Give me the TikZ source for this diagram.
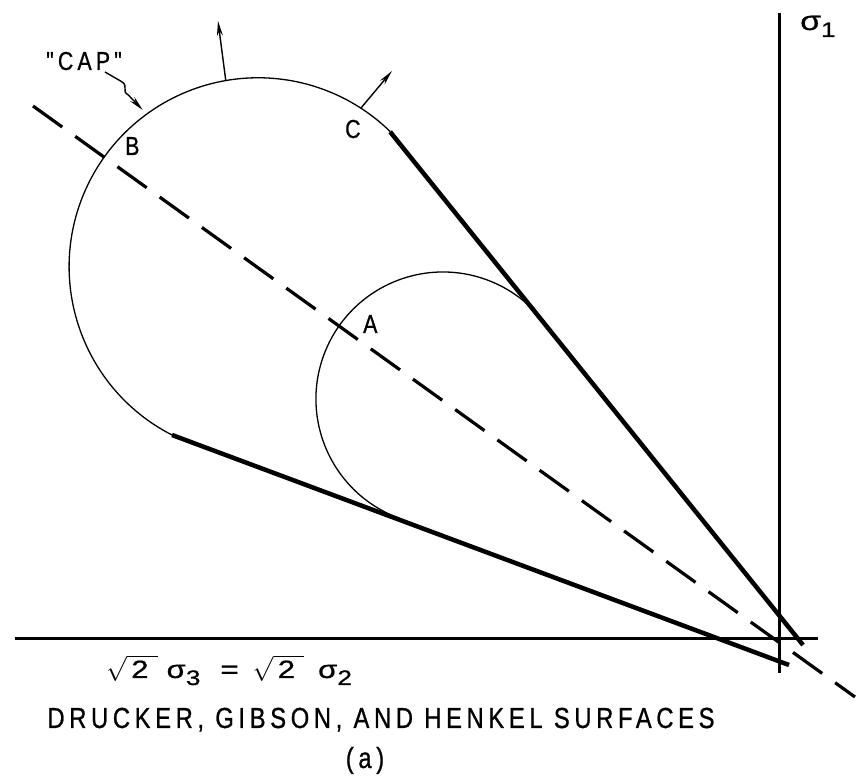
\RequirePackage{fix-cm}
\documentclass[tikz,border=0pt]{standalone}
\usepackage{fontspec}
\setmainfont{Liberation Sans}
\newfontfamily\lettering[FakeStretch=0.82, LetterSpace=16, FakeBold=0.8]{Liberation Sans}
\newfontfamily\eqfont[FakeStretch=1.25, FakeBold=0.8]{Liberation Sans}
\usetikzlibrary{arrows.meta, positioning}
\newcommand{\sub}[1]{\raisebox{-7pt}{\fontsize{21}{21}\selectfont #1}}
\newcommand{\rtwo}{$\sqrt{\hbox{\eqfont\,2\hspace{9pt}}}$}

\begin{document}
\begin{tikzpicture}[x=1pt, y=1pt,
      thinarc/.style={line width=1.3pt},
      thickline/.style={line width=4.5pt},
      axis/.style={line width=3pt},
      hydro/.style={line width=3.2pt, dash pattern=on 36pt off 16pt},
      normal/.style={-{Stealth[length=15pt, width=6pt]}, line width=1.4pt},
      lbl/.style={inner sep=0pt, font=\lettering\fontsize{26}{26}\selectfont},
      caption/.style={inner sep=0pt, font=\lettering\fontsize{29}{29}\selectfont}
    ]
      \useasboundingbox (0,0) rectangle (856,781);
      \coordinate (O) at (779,142);
      \coordinate (west) at (15,142);
      \coordinate (east) at (818,142);
      \coordinate (south) at (779,108);
      \coordinate (north) at (779,768);
      \coordinate (hydroA) at (33,675);
      \coordinate (hydroB) at (855,84);
      \coordinate (capL) at (172,346);
      \coordinate (capR) at (390.1,649.2);
      \coordinate (smL) at (398.6,263.0);
      \coordinate (lowEnd) at (789,116);
      \coordinate (upEnd) at (803,136);
      \draw[axis] (west) -- (east);
      \draw[axis] (south) -- (north);
      \draw[hydro] (hydroA) -- (hydroB);
      \draw[thinarc] (capL) arc[start angle=242.89, end angle=45.64, radius=189];
      \draw[thinarc] (smL) arc[start angle=249.56, end angle=38.78, radius=127];
      \draw[thickline] (capL) -- (lowEnd);
      \draw[thickline] (capR) -- (upEnd);
      \node[lbl, anchor=base west] (cap) at (46,711) {"CAP"};
      \node[lbl, anchor=base west] (B) at (125,626) {B};
      \node[lbl, anchor=base west] (C) at (345,643) {C};
      \node[lbl, anchor=base west] (A) at (363,448) {A};
      \node[inner sep=0pt, anchor=base west, font=\eqfont\fontsize{27}{27}\selectfont] (sigma1) at (800,751) {σ\sub{1}};
      \coordinate (topBase) at (225.8,700.2);
      \coordinate (topTip) at (218,760);
      \coordinate (cBase) at (361,673);
      \coordinate (cTip) at (392,710);
      \coordinate (capTail) at (105,709);
      \coordinate (capTip) at (142.7,671);
      \draw[normal] (topBase) -- (topTip);
      \draw[normal] (cBase) -- (cTip);
      \draw[normal] (capTail) -- (121.7,699.3) .. controls (129,695) and (121,690) .. (128.3,686) -- (capTip);
      \node[inner sep=0pt, anchor=base west, font=\eqfont\fontsize{25}{25}\selectfont] (eqn) at (106,103)
        {\rtwo\hspace{9pt}σ\sub{3}\hspace{20pt}=\hspace{14pt}\rtwo\hspace{14pt}σ\sub{2}};
      \node[caption, anchor=base] (title) at (381,53) {DRUCKER, GIBSON, AND HENKEL SURFACES};
      \node[caption, anchor=base] (sub) at (365,13) {(a)};
    \end{tikzpicture}
\end{document}
